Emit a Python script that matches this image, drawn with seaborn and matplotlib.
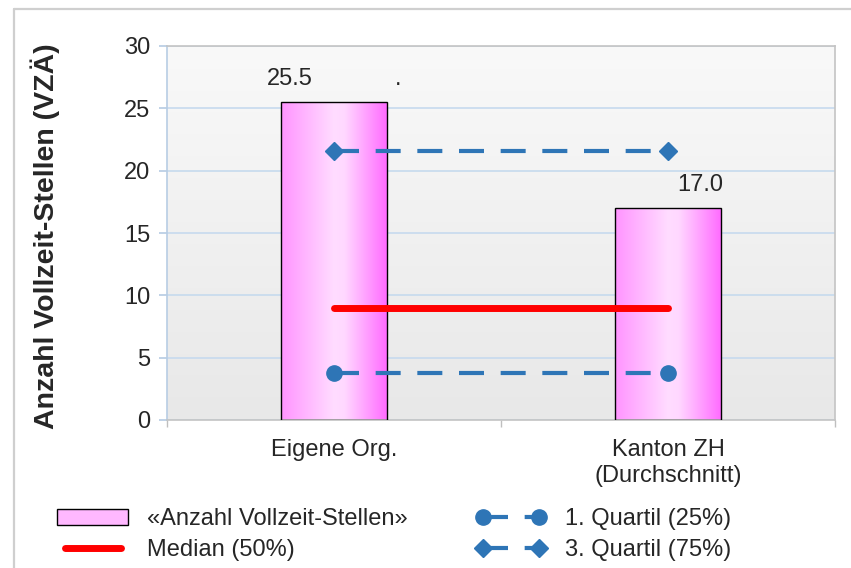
import matplotlib.pyplot as plt
import numpy as np
import seaborn as sns
from matplotlib.colors import LinearSegmentedColormap
from matplotlib.lines import Line2D
from matplotlib.patches import Patch

categories = ["Eigene Org.", "Kanton ZH\n(Durchschnitt)"]
vza = [25.5, 17.0]
bar_labels = ["25.5", "17.0"]
median = [9.0, 9.0]
quartil_1 = [3.8, 3.8]
quartil_3 = [21.6, 21.6]
legend_labels = ["«Anzahl Vollzeit-Stellen»", "Median (50%)",
                 "1. Quartil (25%)", "3. Quartil (75%)"]

BLUE = "#2e75b6"
RED = "#ff0000"
bar_cmap = LinearSegmentedColormap.from_list(
    "pinkbar", [(0.0, "#ff94ff"), (0.5, "#ffdcff"), (0.6, "#ffd8ff"), (1.0, "#ff6cff")])
bg_cmap = LinearSegmentedColormap.from_list("bg", ["#e8e8e8", "#f9f9f9"])

sns.set_theme(style="white")
plt.rcParams["font.family"] = ["Liberation Sans", "DejaVu Sans"]

fig = plt.figure(figsize=(8.51, 5.68), dpi=100)
ax = fig.add_axes([167 / 851, 1 - 420 / 568, 668 / 851, 374 / 568])

# plot area gradient
ax.imshow(np.linspace(0, 1, 256).reshape(-1, 1), cmap=bg_cmap, origin="lower",
          extent=[0, 1, 0, 1], transform=ax.transAxes, aspect="auto", zorder=0)

sns.barplot(x=categories, y=vza, width=0.315, color="#ffaaff",
            edgecolor="black", linewidth=1.0, ax=ax, zorder=3)

grad = np.linspace(0, 1, 256).reshape(1, -1)
for p in ax.patches:
    x0, y0 = p.get_x(), p.get_y()
    im = ax.imshow(grad, cmap=bar_cmap, aspect="auto", zorder=2.5,
                   extent=[x0, x0 + p.get_width(), y0, y0 + p.get_height()])
    im.set_clip_path(p)
    p.set_facecolor("none")

xs = list(range(len(categories)))
ax.plot(xs, quartil_3, color=BLUE, lw=3, ls=(0, (6, 4)), marker="D",
        markersize=9.5, zorder=4)
ax.plot(xs, median, color=RED, lw=5, solid_capstyle="round", zorder=4)
ax.plot(xs, quartil_1, color=BLUE, lw=3, ls=(0, (6, 4)), marker="o",
        markersize=11, zorder=4)

# data labels (offset like in the original)
ax.annotate(bar_labels[0], (0, vza[0]), xytext=(-32, 9), textcoords="offset points",
            ha="center", va="bottom", fontsize=17)
ax.annotate(".", (0, vza[0]), xytext=(46, 9), textcoords="offset points",
            ha="center", va="bottom", fontsize=17)
ax.annotate(bar_labels[1], (1, vza[1]), xytext=(23, 9), textcoords="offset points",
            ha="center", va="bottom", fontsize=17)

ax.set_xlim(-0.5, 1.5)
ax.set_ylim(0, 30)
ax.set_yticks(range(0, 31, 5))
ax.yaxis.grid(True, color="#c6daee", lw=1.2)
ax.set_axisbelow(True)
ax.tick_params(axis="y", which="major", left=True, length=6, color="#b8cde4",
               labelsize=17, pad=6)
ax.tick_params(axis="x", which="major", bottom=False, labelsize=17, pad=8)
ax.set_xticks([-0.5, 0.5, 1.5], minor=True)
ax.tick_params(axis="x", which="minor", bottom=True, length=5, color="#bfbfbf")
for side in ["top", "right", "bottom"]:
    ax.spines[side].set_color("#c4c4c4")
    ax.spines[side].set_linewidth(1.2)
ax.spines["left"].set_color("#b8cde4")
ax.spines["left"].set_linewidth(1.2)

fig.text(45 / 851, 1 - 236 / 568, "Anzahl Vollzeit-Stellen (VZÄ)", rotation=90,
         ha="center", va="center", fontsize=20.5, fontweight="bold")

# outer frame
fig.add_artist(Line2D([14 / 851, 14 / 851], [0, 1 - 9 / 568], color="#cfcfcf", lw=1.6))
fig.add_artist(Line2D([14 / 851, 1], [1 - 9 / 568, 1 - 9 / 568], color="#cfcfcf", lw=1.6))

h_bar = Patch(facecolor="#ffb8ff", edgecolor="black", linewidth=1.0)
h_med = Line2D([], [], color=RED, lw=5, solid_capstyle="round")
h_q1 = Line2D([], [], color=BLUE, lw=3, ls=(0, (6, 4)), marker="o", markersize=11)
h_q3 = Line2D([], [], color=BLUE, lw=3, ls=(0, (6, 4)), marker="D", markersize=9.5)

leg_kw = dict(frameon=False, fontsize=17, handlelength=3.0, handleheight=0.65,
              handletextpad=0.8, labelspacing=0.35, numpoints=2, borderaxespad=0)
leg1 = fig.legend([h_bar, h_med], legend_labels[:2], loc="upper left",
                  bbox_to_anchor=(48 / 851, 1 - 499 / 568), **leg_kw)
leg2 = fig.legend([h_q1, h_q3], legend_labels[2:], loc="upper left",
                  bbox_to_anchor=(466 / 851, 1 - 499 / 568), **leg_kw)

fig.savefig("out.png", dpi=100)
